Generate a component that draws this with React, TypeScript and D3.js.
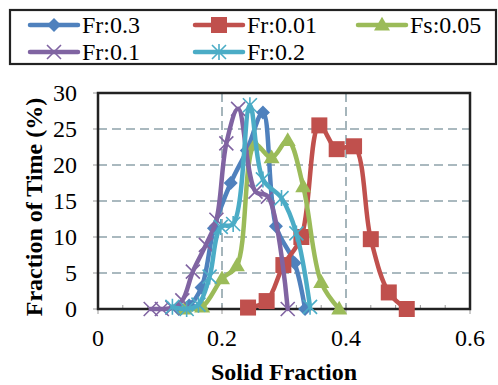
import { useEffect, useRef } from "react";
import * as d3 from "d3";

// series names as shown in the legend
const seriesNames = ["Fr:0.3", "Fr:0.01", "Fs:0.05", "Fr:0.1", "Fr:0.2"];

// Fr:0.3
const fr03X = [0.13, 0.147, 0.167, 0.187, 0.214, 0.24, 0.266, 0.287, 0.317, 0.334];
const fr03Y = [0, 0.5, 3, 11.2, 17.5, 22, 27.3, 11.5, 6.4, 0];
// Fr:0.01
const fr001X = [0.242, 0.272, 0.299, 0.328, 0.357, 0.385, 0.413, 0.44, 0.469, 0.498];
const fr001Y = [0.2, 1.1, 6.1, 10, 25.5, 22.2, 22.6, 9.7, 2.3, 0];
// Fs:0.05
const fs005X = [0.14, 0.168, 0.2, 0.224, 0.253, 0.28, 0.306, 0.331, 0.36, 0.389];
const fs005Y = [0, 0.3, 4.2, 6, 22.8, 21, 23.4, 17, 3.7, 0];
// Fr:0.1
const fr01X = [0.085, 0.103, 0.12, 0.136, 0.153, 0.174, 0.191, 0.207, 0.226, 0.254, 0.274, 0.306];
const fr01Y = [0, 0, 0.2, 1.2, 5.2, 8.9, 12.4, 23, 27.8, 16.3, 15.6, 0];
// Fr:0.2
const fr02X = [0.12, 0.143, 0.162, 0.18, 0.198, 0.218, 0.245, 0.266, 0.296, 0.32, 0.342];
const fr02Y = [0.3, 0, 0.6, 4.5, 11.4, 11.8, 28.3, 18, 15.4, 10.5, 0.3];

const xTicks = [0, 0.2, 0.4, 0.6];
const yTicks = [0, 5, 10, 15, 20, 25, 30];

const colors = ["#4F81BD", "#C0504D", "#9BBB59", "#8064A2", "#4BACC6"];
const markers = ["diamond", "square", "triangle", "cross", "star"];

const W = 498;
const H = 385;
const FONT = '"Liberation Serif", "Times New Roman", Times, serif';

function drawMarker(g: d3.Selection<SVGGElement, unknown, null, undefined>, kind: string, cx: number, cy: number, color: string) {
  if (kind === "diamond") {
    const r = 7;
    g.append("path").attr("d", `M${cx},${cy - r}L${cx + r},${cy}L${cx},${cy + r}L${cx - r},${cy}Z`).attr("fill", color);
  } else if (kind === "square") {
    const s = 16;
    g.append("rect").attr("x", cx - s / 2).attr("y", cy - s / 2).attr("width", s).attr("height", s).attr("fill", color);
  } else if (kind === "triangle") {
    const s = 16;
    const h = s * 0.87;
    g.append("path").attr("d", `M${cx},${cy - h * 0.6}L${cx + s / 2},${cy + h * 0.4}L${cx - s / 2},${cy + h * 0.4}Z`).attr("fill", color);
  } else if (kind === "cross" || kind === "star") {
    const r = 7;
    let d = `M${cx - r},${cy - r}L${cx + r},${cy + r}M${cx - r},${cy + r}L${cx + r},${cy - r}`;
    if (kind === "star") d += `M${cx},${cy - r - 1}L${cx},${cy + r + 1}`;
    g.append("path").attr("d", d).attr("stroke", color).attr("stroke-width", 1.6).attr("fill", "none");
  }
}

export default function App() {
  const ref = useRef<SVGSVGElement | null>(null);

  useEffect(() => {
    if (!ref.current) return;
    const svg = d3.select(ref.current);
    svg.selectAll("*").remove();

    const left = 98, right = 470, top = 93, bottom = 309;
    const x = d3.scaleLinear().domain([0, 0.6]).range([left, right]);
    const y = d3.scaleLinear().domain([0, 30]).range([bottom, top]);

    svg.append("rect").attr("width", W).attr("height", H).attr("fill", "#fff");

    // gridlines
    const grid = svg.append("g");
    grid.selectAll("line.h")
      .data(yTicks.filter((t) => t > 0 && t < 30))
      .enter()
      .append("line")
      .attr("x1", left).attr("x2", right)
      .attr("y1", (d) => y(d)).attr("y2", (d) => y(d))
      .attr("stroke", "#8FA3AB").attr("stroke-width", 1.6).attr("stroke-dasharray", "9,5");
    grid.selectAll("line.v")
      .data(xTicks.filter((t) => t > 0 && t < 0.6))
      .enter()
      .append("line")
      .attr("y1", top).attr("y2", bottom)
      .attr("x1", (d) => x(d)).attr("x2", (d) => x(d))
      .attr("stroke", "#8FA3AB").attr("stroke-width", 1.6).attr("stroke-dasharray", "9,5");

    // minor ticks on x axis (every 0.04)
    const minor = d3.range(0, 0.6001, 0.04);
    svg.append("g").selectAll("line")
      .data(minor)
      .enter()
      .append("line")
      .attr("x1", (d) => x(d)).attr("x2", (d) => x(d))
      .attr("y1", bottom).attr("y2", bottom - 4)
      .attr("stroke", "#999").attr("stroke-width", 1);
    // major ticks
    svg.append("g").selectAll("line")
      .data(xTicks)
      .enter()
      .append("line")
      .attr("x1", (d) => x(d)).attr("x2", (d) => x(d))
      .attr("y1", bottom).attr("y2", bottom + 5)
      .attr("stroke", "#999").attr("stroke-width", 1);
    svg.append("g").selectAll("line")
      .data(yTicks)
      .enter()
      .append("line")
      .attr("x1", left - 5).attr("x2", left)
      .attr("y1", (d) => y(d)).attr("y2", (d) => y(d))
      .attr("stroke", "#999").attr("stroke-width", 1);

    // plot frame
    svg.append("rect")
      .attr("x", left).attr("y", top)
      .attr("width", right - left).attr("height", bottom - top)
      .attr("fill", "none").attr("stroke", "#222").attr("stroke-width", 2.5);

    // tick labels
    svg.append("g").selectAll("text")
      .data(xTicks)
      .enter()
      .append("text")
      .attr("x", (d) => x(d)).attr("y", 346)
      .attr("text-anchor", "middle")
      .attr("font-family", FONT).attr("font-size", 24)
      .text((d) => (d === 0 ? "0" : d.toFixed(1)));
    svg.append("g").selectAll("text")
      .data(yTicks)
      .enter()
      .append("text")
      .attr("x", 77).attr("y", (d) => y(d) + 8)
      .attr("text-anchor", "end")
      .attr("font-family", FONT).attr("font-size", 24)
      .text((d) => String(d));

    // axis titles
    svg.append("text")
      .attr("x", 284).attr("y", 380)
      .attr("text-anchor", "middle")
      .attr("font-family", FONT).attr("font-size", 24).attr("font-weight", "bold")
      .text("Solid Fraction");
    svg.append("text")
      .attr("transform", `translate(42,${(top + bottom) / 2 + 6}) rotate(-90)`)
      .attr("text-anchor", "middle")
      .attr("font-family", FONT).attr("font-size", 24).attr("font-weight", "bold")
      .text("Fraction of Time (%)");

    // series
    const xs = [fr03X, fr001X, fs005X, fr01X, fr02X];
    const ys = [fr03Y, fr001Y, fs005Y, fr01Y, fr02Y];
    const line = d3.line<[number, number]>()
      .x((d) => x(d[0]))
      .y((d) => y(d[1]))
      .curve(d3.curveCatmullRom.alpha(0.5));

    seriesNames.forEach((_, i) => {
      const pts: [number, number][] = xs[i].map((v, j) => [v, ys[i][j]]);
      const g = svg.append("g");
      g.append("path")
        .attr("d", line(pts) || "")
        .attr("fill", "none")
        .attr("stroke", colors[i])
        .attr("stroke-width", 4.5)
        .attr("stroke-linejoin", "round")
        .attr("stroke-linecap", "round");
      pts.forEach((p) => drawMarker(g, markers[i], x(p[0]), y(p[1]), colors[i]));
    });

    // legend
    const lg = svg.append("g");
    lg.append("rect")
      .attr("x", 10).attr("y", 10).attr("width", 486).attr("height", 54)
      .attr("fill", "#fff").attr("stroke", "#222").attr("stroke-width", 2.2);
    const pos = [
      [28, 25], [193, 25], [356, 25],
      [28, 52], [193, 52],
    ];
    seriesNames.forEach((name, i) => {
      const [lx, ly] = pos[i];
      const g = lg.append("g");
      g.append("line")
        .attr("x1", lx + 2).attr("x2", lx + 50)
        .attr("y1", ly).attr("y2", ly)
        .attr("stroke", colors[i]).attr("stroke-width", 4.5).attr("stroke-linecap", "round");
      drawMarker(g, markers[i], lx + 26, ly, colors[i]);
      g.append("text")
        .attr("x", lx + 54).attr("y", ly + 8)
        .attr("font-family", FONT).attr("font-size", 24)
        .text(name);
    });
  }, []);

  return (
    <svg
      ref={ref}
      width={W}
      height={H}
      style={{ position: "absolute", left: 0, top: 0, display: "block" }}
    />
  );
}
